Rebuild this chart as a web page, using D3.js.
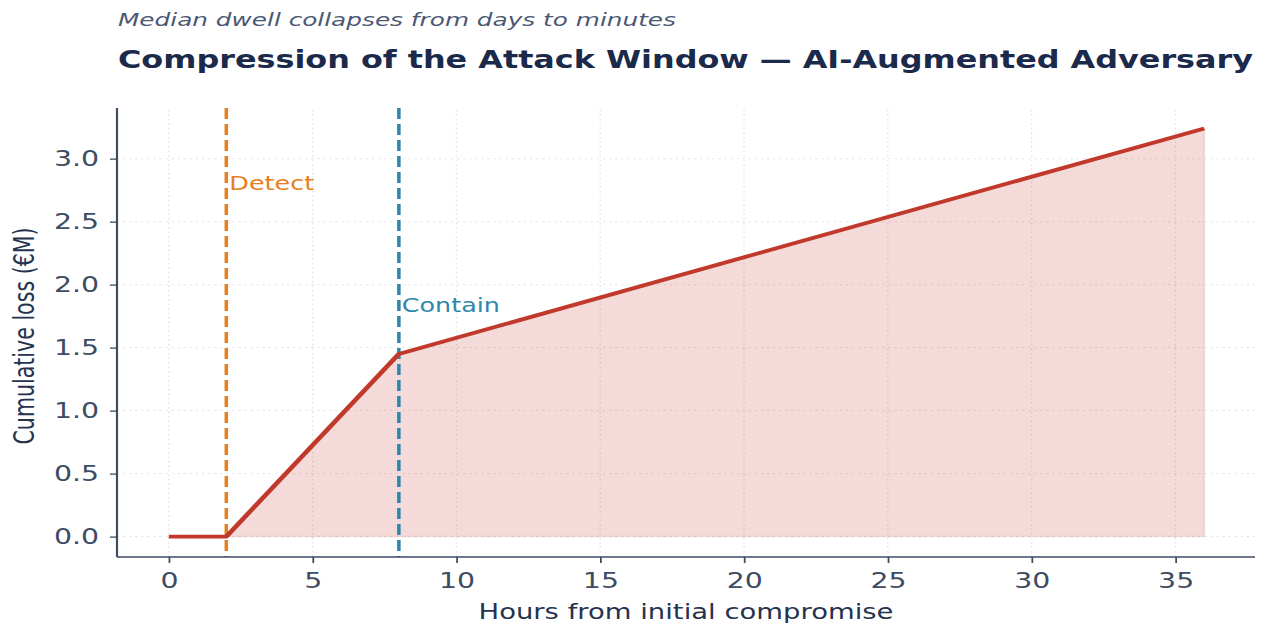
<!DOCTYPE html>
<html>
<head>
<meta charset="utf-8">
<script src="https://cdn.jsdelivr.net/npm/d3@7"></script>
<style>
  html, body { margin: 0; padding: 0; background: #fff; }
  svg { display: block; }
</style>
</head>
<body>
<div id="chart"></div>
<script>
// Data
const hours = [0, 2, 8, 36];              // hours from initial compromise
const lossM = [0, 0, 1.45, 3.24];         // cumulative loss, €M
const xTicks = [0, 5, 10, 15, 20, 25, 30, 35];
const yTicks = [0, 0.5, 1.0, 1.5, 2.0, 2.5, 3.0];
const markerHours = [2, 8];
const markerNames = ["Detect", "Contain"];
const markerColors = ["#e67e22", "#2e86ab"];

function init() {
    const W = 1263, H = 624;
    const SX = 1.35; // the picture is stretched horizontally
    const vw = W / SX;

    const svg = d3.select("#chart").append("svg")
        .attr("width", W).attr("height", H)
        .attr("viewBox", `0 0 ${vw} ${H}`)
        .attr("preserveAspectRatio", "none");

    const font = "'DejaVu Sans', sans-serif";
    const ink = "#3d4b63";

    const x = d3.scaleLinear().domain([-1.8, 37.8]).range([117 / SX, 1256 / SX]);
    const y = d3.scaleLinear().domain([-0.162, 3.402]).range([557, 108]);

    // grid
    const grid = svg.append("g").attr("stroke", "#e2e2e2").attr("stroke-width", 1)
        .attr("stroke-dasharray", "1.5,3");
    grid.selectAll("line.gy").data(yTicks).enter().append("line")
        .attr("x1", x.range()[0]).attr("x2", x.range()[1])
        .attr("y1", d => y(d)).attr("y2", d => y(d));
    grid.selectAll("line.gx").data(xTicks).enter().append("line")
        .attr("x1", d => x(d)).attr("x2", d => x(d))
        .attr("y1", y.range()[0]).attr("y2", y.range()[1]);

    // area + line
    const pts = hours.map((h, i) => ({ h: h, v: lossM[i] }));
    const area = d3.area().x(d => x(d.h)).y0(y(0)).y1(d => y(d.v));
    svg.append("path")
        .datum(pts.filter(d => d.h >= markerHours[0]))
        .attr("d", area)
        .attr("fill", "#c0392b").attr("fill-opacity", 0.18)
        .attr("stroke", "#c0392b").attr("stroke-opacity", 0.12).attr("stroke-width", 1.5);

    // marker lines
    markerHours.forEach((m, i) => {
        svg.append("line")
            .attr("x1", x(m)).attr("x2", x(m))
            .attr("y1", y.range()[1]).attr("y2", y.range()[0])
            .attr("stroke", markerColors[i]).attr("stroke-width", 2.6)
            .attr("stroke-dasharray", "11,5");
    });

    const line = d3.line().x(d => x(d.h)).y(d => y(d.v));
    svg.append("path").datum(pts).attr("d", line)
        .attr("fill", "none").attr("stroke", "#c0392b").attr("stroke-width", 3.8)
        .attr("stroke-linejoin", "round");

    // marker labels
    const labelY = [190, 312];
    const labelLen = [85, 98];
    markerHours.forEach((m, i) => {
        svg.append("text")
            .attr("x", x(m) + 3 / SX).attr("y", labelY[i])
            .attr("font-family", font).attr("font-size", "19.5px")
            .attr("fill", markerColors[i])
            .attr("textLength", labelLen[i] / SX).attr("lengthAdjust", "spacingAndGlyphs")
            .text(markerNames[i]);
    });

    // axes
    const xAxis = d3.axisBottom(x).tickValues(xTicks).tickSize(6).tickPadding(10)
        .tickFormat(d3.format("d"));
    const gx = svg.append("g").attr("transform", `translate(0,${y.range()[0]})`).call(xAxis);
    const yAxis = d3.axisLeft(y).tickValues(yTicks).tickSize(7 / SX).tickPadding(11 / SX)
        .tickFormat(d3.format(".1f"));
    const gy = svg.append("g").attr("transform", `translate(${x.range()[0]},0)`).call(yAxis);

    [gx, gy].forEach(g => {
        g.select(".domain").attr("stroke", ink).attr("stroke-width", 1.6);
        g.selectAll(".tick line").attr("stroke", ink).attr("stroke-width", 1.3);
        g.selectAll(".tick text").attr("fill", ink)
            .attr("font-family", font).attr("font-size", "21px");
    });
    gx.select(".domain").attr("d", `M${x.range()[0]},0H${1255 / SX}`);
    gy.select(".domain").attr("d", `M0,${y.range()[0]}V${y.range()[1]}`);

    // axis labels
    svg.append("text")
        .attr("x", 686 / SX).attr("y", 619)
        .attr("text-anchor", "middle")
        .attr("font-family", font).attr("font-size", "21px").attr("fill", "#26334f")
        .attr("textLength", 415 / SX).attr("lengthAdjust", "spacingAndGlyphs")
        .text("Hours from initial compromise");

    svg.append("text")
        .attr("transform", `translate(${34 / SX},336) rotate(-90)`)
        .attr("text-anchor", "middle")
        .attr("font-family", font).attr("font-size", "21px").attr("fill", "#26334f")
        .attr("textLength", 217).attr("lengthAdjust", "spacingAndGlyphs")
        .text("Cumulative loss (€M)");

    // titles
    svg.append("text")
        .attr("x", 118 / SX).attr("y", 26)
        .attr("font-family", font).attr("font-style", "italic").attr("font-size", "17px")
        .attr("fill", "#4a5874")
        .attr("textLength", 558 / SX).attr("lengthAdjust", "spacingAndGlyphs")
        .text("Median dwell collapses from days to minutes");

    svg.append("text")
        .attr("x", 118 / SX).attr("y", 68)
        .attr("font-family", font).attr("font-weight", "bold").attr("font-size", "25.5px")
        .attr("fill", "#1b2a4a")
        .attr("textLength", 1135 / SX).attr("lengthAdjust", "spacingAndGlyphs")
        .text("Compression of the Attack Window — AI-Augmented Adversary");
}

window.onload = init;
</script>
</body>
</html>
